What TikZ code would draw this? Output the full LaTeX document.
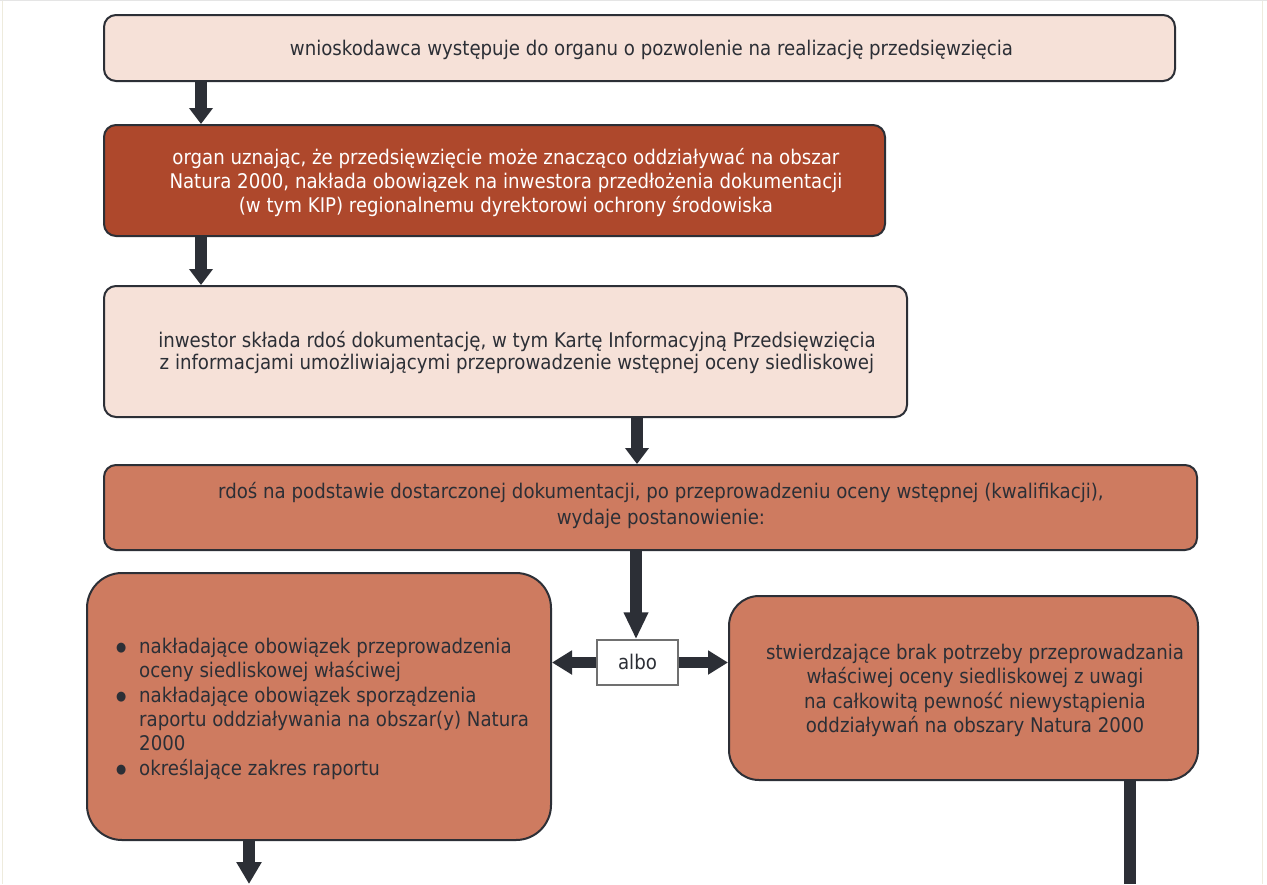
\documentclass[tikz,border=0pt]{standalone}
\usepackage{fontspec}
\setmainfont{DejaVu Sans Condensed}
\usetikzlibrary{arrows.meta}
\definecolor{peach}{HTML}{F6E1D8}
\definecolor{rust}{HTML}{AE482C}
\definecolor{salmon}{HTML}{CE7B60}
\definecolor{ink}{HTML}{2C2F36}
\definecolor{albogray}{HTML}{707070}
\definecolor{edge}{HTML}{EEEBDD}
\newcommand{\bul}{\makebox[23pt][l]{\raisebox{2pt}{\fontsize{13}{13}\selectfont ●}}}
\tikzset{
  box/.style={draw=ink, line width=2pt, rounded corners=12pt, inner sep=0pt},
  txt/.style={text=ink, align=center, inner sep=0pt, font=\fontsize{20.2}{24}\selectfont},
  arr/.style={draw=ink, line width=11.5pt, -{Triangle[length=16pt,width=23pt]}},
  bar/.style={draw=ink, line width=11.5pt},
}
\begin{document}
\begin{tikzpicture}[x=1pt,y=-1pt]
\useasboundingbox (0,0) rectangle (1267,884);
\fill[white] (0,0) rectangle (1267,884);
\draw[edge, line width=1pt] (2,0) -- (2,884);
\draw[edge, line width=1pt] (1262,0) -- (1262,884);
\draw[gray!20, line width=1pt] (0,0.5) -- (1267,0.5);

\node[box, fill=peach, minimum width=1071pt, minimum height=66pt] (b1) at (639.5,48) {};
\node[box, fill=rust, minimum width=781pt, minimum height=111pt] (b2) at (494.5,180.5) {};
\node[box, fill=peach, minimum width=803pt, minimum height=131pt] (b3) at (505.5,351.5) {};
\node[box, fill=salmon, minimum width=1093pt, minimum height=85pt] (b4) at (650.5,507.5) {};
\node[draw=albogray, line width=1.5pt, fill=white, minimum width=81pt, minimum height=45pt, inner sep=0pt] (albo) at (637.5,662.5) {};
\node[box, fill=salmon, rounded corners=35pt, minimum width=464pt, minimum height=267pt] (bl) at (319,706.5) {};
\node[box, fill=salmon, rounded corners=30pt, minimum width=469pt, minimum height=184pt] (br) at (963.5,688) {};

\node[txt] (t1) at (651.5,50) {wnioskodawca występuje do organu o pozwolenie na realizację przedsięwzięcia};
\node[txt, text=white] (t2) at (506,183) {organ uznając, że przedsięwzięcie może znacząco oddziaływać na obszar\\Natura 2000, nakłada obowiązek na inwestora przedłożenia dokumentacji\\(w tym KIP) regionalnemu dyrektorowi ochrony środowiska};
\node[txt, font=\fontsize{20.2}{22}\selectfont] (t3) at (517,352.5) {inwestor składa rdoś dokumentację, w tym Kartę Informacyjną Przedsięwzięcia\\z informacjami umożliwiającymi przeprowadzenie wstępnej oceny siedliskowej};
\node[txt, font=\fontsize{20.2}{26}\selectfont] (t4) at (661,505.5) {rdoś na podstawie dostarczonej dokumentacji, po przeprowadzeniu oceny wstępnej (kwalifikacji),\\wydaje postanowienie:};
\node[txt] (ta) at ([yshift=1pt]albo.center) {albo};
\node[txt, align=left, anchor=west, font=\fontsize{20.2}{24.4}\selectfont] (t5) at (116,709.5) {\begin{tabular}{@{}l@{}l@{}}
\bul & nakładające obowiązek przeprowadzenia\\
 & oceny siedliskowej właściwej\\
\bul & nakładające obowiązek sporządzenia\\
 & raportu oddziaływania na obszar(y) Natura\\
 & 2000\\
\bul & określające zakres raportu
\end{tabular}};
\node[txt, font=\fontsize{20.2}{24.3}\selectfont] (t6) at (975,690.5) {stwierdzające brak potrzeby przeprowadzania\\właściwej oceny siedliskowej z uwagi\\na całkowitą pewność niewystąpienia\\oddziaływań na obszary Natura 2000};

\coordinate (xa) at (201,0);
\coordinate (xb) at (637,0);
\coordinate (xc) at (636,0);
\coordinate (e1) at (249,884);
\coordinate (e2) at (1130,884);

\draw[arr] (b1.south -| xa) -- (b2.north -| xa);
\draw[arr] (b2.south -| xa) -- (b3.north -| xa);
\draw[arr] (b3.south -| xb) -- (b4.north -| xb);
\draw[arr, -{Triangle[length=27pt,width=23pt]}] (b4.south -| xc) -- (albo.north -| xc);
\draw[arr, -{Triangle[length=20pt,width=23pt]}] (albo.west) -- (albo.west -| bl.east);
\draw[arr, -{Triangle[length=20pt,width=23pt]}] (albo.east) -- (albo.east -| br.west);
\draw[arr, -{Triangle[length=22pt,width=24pt]}] (bl.south -| e1) -- (e1);
\draw[bar] (br.south -| e2) -- (e2);
\end{tikzpicture}
\end{document}
